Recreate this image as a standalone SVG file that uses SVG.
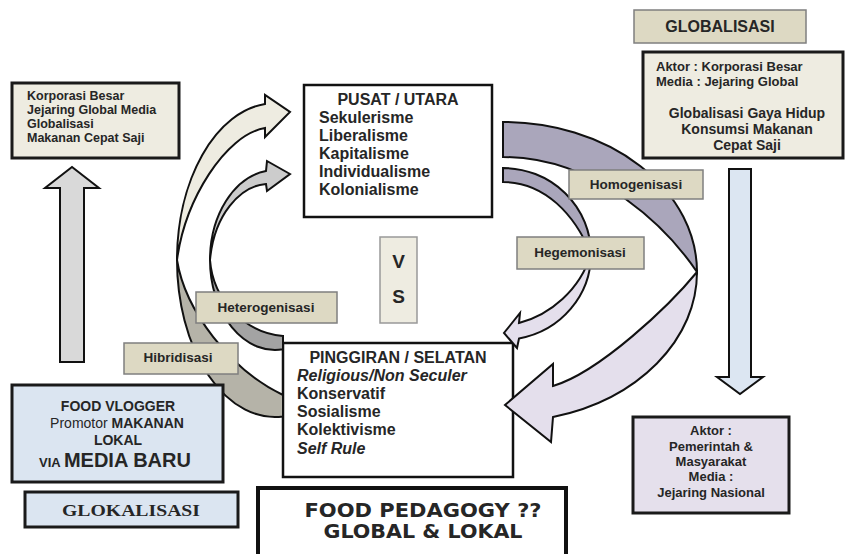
<svg xmlns="http://www.w3.org/2000/svg" width="846" height="554" viewBox="0 0 846 554">
<style>
.t{font-family:"Liberation Sans",Arial,sans-serif;font-weight:bold;fill:#262626}
.c{text-anchor:middle}
.box{stroke:#1a1a1a;stroke-width:3}
.lab{fill:#ddd9c3;stroke:#7f7f7f;stroke-width:1.5}
.ar{stroke:#111;stroke-width:2;stroke-linejoin:miter}
</style>
<rect width="846" height="554" fill="#ffffff"/>

<g id="pusat">
<rect x="304" y="85" width="188" height="132" fill="#fff" stroke="#111" stroke-width="2.5"/>
<text class="t c" x="398" y="105" font-size="16">PUSAT / UTARA</text>
<text class="t" x="319" y="123" font-size="16">Sekulerisme</text>
<text class="t" x="319" y="141" font-size="16">Liberalisme</text>
<text class="t" x="319" y="159" font-size="16">Kapitalisme</text>
<text class="t" x="319" y="177" font-size="16">Individualisme</text>
<text class="t" x="319" y="195" font-size="16">Kolonialisme</text>
</g>

<g id="pinggiran">
<rect x="283" y="343" width="230" height="134" fill="#fff" stroke="#111" stroke-width="2.5"/>
<text class="t c" x="398" y="363" font-size="16">PINGGIRAN / SELATAN</text>
<text class="t" x="297" y="381" font-size="16" font-style="italic">Religious/Non Seculer</text>
<text class="t" x="297" y="399" font-size="16">Konservatif</text>
<text class="t" x="297" y="417" font-size="16">Sosialisme</text>
<text class="t" x="297" y="435" font-size="16">Kolektivisme</text>
<text class="t" x="297" y="454" font-size="16" font-style="italic">Self Rule</text>
</g>

<g id="connectors">
<!-- left up arrow -->
<path class="ar" fill="#d9d9d9" d="M60,362 L60,188 L45,188 L72,167 L99,188 L84,188 L84,362 Z"/>
<!-- right down arrow -->
<path class="ar" fill="#dce6f2" d="M729,169 L751,169 L751,377 L763,377 L740,394 L717,377 L729,377 Z"/>
<!-- outer left curved arrow (Hibridisasi) -->
<path class="ar" fill="#b5b3a8" d="M177,260 A98,157 0 0 0 283,416.5 L283,395 C230,370 185,310 177,260 Z"/>
<path class="ar" fill="#eeece1" d="M265,104 L265,95 L290,112 L265,137 L265,128 C225,135 185,200 177,260 A98,157 0 0 1 265,104 Z"/>
<!-- inner left curved arrow (Heterogenisasi) -->
<path class="ar" fill="#a3a3a3" d="M210,260 A65,90 0 0 0 283,349.3 L283,336 C245,333 213,300 210,260 Z"/>
<path class="ar" fill="#cccccc" d="M266,171 L267,161 L290,174 L267,191 L266,184 C240,186 214,215 210,260 A65,90 0 0 1 266,171 Z"/>
<!-- outer right curved arrow (Homogenisasi) -->
<path class="ar" fill="#aaa6bb" d="M503,122 A194,150 0 0 1 697,272 C670,232 600,157 503,157 Z"/>
<path class="ar" fill="#e4dfec" d="M697,272 A194,150 0 0 1 553,417 L551,442 L505,405 L553,364 L553,386 C600,372 670,305 697,272 Z"/>
<!-- inner right curved arrow (Hegemonisasi) -->
<path class="ar" fill="#aaa6bb" d="M503,168 A88,86 0 0 1 591,254 C575,215 545,182 503,182 Z"/>
<path class="ar" fill="#e4dfec" d="M591,254 A88,86 0 0 1 519,338.5 L517,348 L504,333 L520,313 L519,323 C550,315 580,290 591,254 Z"/>
</g>

<g id="media-global">
<rect class="box" x="12" y="83" width="167" height="75" fill="#eeece1"/>
<text class="t" x="27" y="100" font-size="12.5">Korporasi Besar</text>
<text class="t" x="27" y="114" font-size="12.5">Jejaring Global Media</text>
<text class="t" x="27" y="128" font-size="12.5">Globalisasi</text>
<text class="t" x="27" y="142" font-size="12.5">Makanan Cepat Saji</text>
</g>

<g id="globalisasi">
<rect class="lab" x="634" y="10" width="172" height="33"/>
<text class="t c" x="720" y="32" font-size="16">GLOBALISASI</text>
</g>

<g id="aktor-global">
<rect class="box" x="643" y="52" width="200" height="106" fill="#eeece1"/>
<text class="t" x="656" y="71" font-size="13">Aktor : Korporasi Besar</text>
<text class="t" x="656" y="86" font-size="13">Media : Jejaring Global</text>
<text class="t c" x="747" y="118" font-size="14">Globalisasi Gaya Hidup</text>
<text class="t c" x="747" y="134" font-size="14">Konsumsi Makanan</text>
<text class="t c" x="747" y="150" font-size="14">Cepat Saji</text>
</g>

<g id="homogenisasi">
<rect class="lab" x="569" y="170" width="134" height="29"/>
<text class="t c" x="636" y="189" font-size="13.5">Homogenisasi</text>
</g>

<g id="hegemonisasi">
<rect class="lab" x="517" y="237" width="127" height="32"/>
<text class="t c" x="580" y="257" font-size="13.5">Hegemonisasi</text>
</g>

<g id="vs">
<rect x="380" y="237" width="37" height="86" fill="#eeece1" stroke="#999" stroke-width="1.5"/>
<text class="t c" x="398.5" y="268" font-size="19">V</text>
<text class="t c" x="398.5" y="303" font-size="19">S</text>
</g>

<g id="heterogenisasi">
<rect class="lab" x="196" y="292" width="141" height="31"/>
<text class="t c" x="266" y="312" font-size="13.5">Heterogenisasi</text>
</g>

<g id="hibridisasi">
<rect class="lab" x="124" y="343" width="114" height="31"/>
<text class="t c" x="178" y="362" font-size="13.5">Hibridisasi</text>
</g>

<g id="food-vlogger">
<rect class="box" x="12" y="385" width="211" height="97" fill="#dbe5f1"/>
<text class="t c" x="118" y="411" font-size="14">FOOD VLOGGER</text>
<text class="t c" x="117" y="428" font-size="14"><tspan font-weight="normal">Promotor </tspan>MAKANAN</text>
<text class="t c" x="118" y="445" font-size="14">LOKAL</text>
<text class="t c" x="115" y="467"><tspan font-size="13">VIA </tspan><tspan font-size="20">MEDIA BARU</tspan></text>
</g>

<g id="glokalisasi">
<rect class="box" x="25" y="492" width="213" height="35" fill="#dbe5f1"/>
<text x="131" y="516" text-anchor="middle" font-family="'Liberation Serif',serif" font-weight="bold" font-size="16.5" fill="#262626" textLength="138" lengthAdjust="spacingAndGlyphs">GLOKALISASI</text>
</g>

<g id="aktor-nasional">
<rect class="box" x="633" y="417" width="156" height="96" fill="#e5e0ec"/>
<text class="t c" x="711" y="435" font-size="13">Aktor :</text>
<text class="t c" x="711" y="451" font-size="13">Pemerintah &amp;</text>
<text class="t c" x="711" y="466" font-size="13">Masyarakat</text>
<text class="t c" x="711" y="481" font-size="13">Media :</text>
<text class="t c" x="711" y="497" font-size="13">Jejaring Nasional</text>
</g>

<g id="food-pedagogy">
<rect x="258" y="488" width="308" height="80" fill="#fff" stroke="#111" stroke-width="4"/>
<text x="423" y="517" text-anchor="middle" font-family="'DejaVu Sans',Verdana,sans-serif" font-weight="bold" font-size="19" fill="#262626" textLength="237" lengthAdjust="spacingAndGlyphs">FOOD PEDAGOGY ??</text>
<text x="423" y="538" text-anchor="middle" font-family="'DejaVu Sans',Verdana,sans-serif" font-weight="bold" font-size="19" fill="#262626" textLength="199" lengthAdjust="spacingAndGlyphs">GLOBAL &amp; LOKAL</text>
</g>
</svg>
